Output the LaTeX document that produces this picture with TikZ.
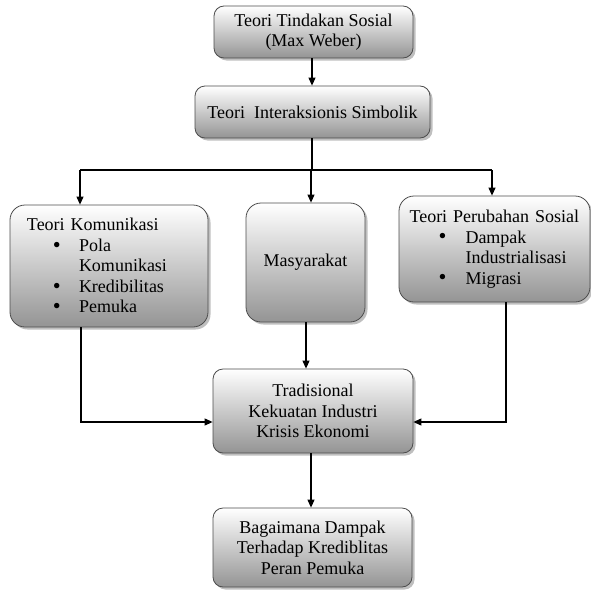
\documentclass[tikz,border=0pt]{standalone}
\usepackage{fontspec}
\setmainfont{Liberation Serif}
\usetikzlibrary{shadows,arrows.meta}
\newcommand{\bul}{\raisebox{-0.6pt}{\scalebox{1.25}{\textbullet}}}
\begin{document}
\begin{tikzpicture}[x=1pt,y=-1pt,
 box/.style={draw=black!70, line width=0.8pt, rounded corners=10pt, top color=white, bottom color=black!42,
   drop shadow={shadow xshift=2.5pt, shadow yshift=-2.5pt, fill=black!50, opacity=0.5},
   font=\fontsize{18}{20.5}\selectfont, align=center, inner sep=0pt},
 big/.style={box, rounded corners=15pt},
 link/.style={line width=1.1pt, draw=black},
 arr/.style={link, -{Triangle[length=8pt,width=7pt]}}]
\useasboundingbox (0,0) rectangle (591,589);

\node[box, minimum width=199pt, minimum height=52pt] (top) at (313.5,32) {Teori Tindakan Sosial\\(Max Weber)};
\node[box, minimum width=235pt, minimum height=52pt] (inter) at (312.5,112) {Teori\ \ Interaksionis Simbolik};
\node[big, minimum width=198pt, minimum height=122pt, text width=164pt, inner xsep=17pt, align=left] (kom) at (109,266)
 {Teori Komunikasi\\
  \hspace*{26pt}\makebox[26pt][l]{\bul}Pola\\
  \hspace*{52pt}Komunikasi\\
  \hspace*{26pt}\makebox[26pt][l]{\bul}Kredibilitas\\
  \hspace*{26pt}\makebox[26pt][l]{\bul}Pemuka};
\node[big, minimum width=119pt, minimum height=119pt] (mas) at (305.5,262.5) {Masyarakat};
\node[big, minimum width=191pt, minimum height=106pt, text width=170pt, inner xsep=10.5pt, align=left] (per) at (494.5,249)
 {Teori Perubahan Sosial\\
  \hspace*{29pt}\makebox[27pt][l]{\bul}Dampak\\
  \hspace*{56pt}Industrialisasi\\
  \hspace*{29pt}\makebox[27pt][l]{\bul}Migrasi};
\node[box, minimum width=200pt, minimum height=84pt] (trad) at (313,411) {Tradisional\\Kekuatan Industri\\Krisis Ekonomi};
\node[box, minimum width=199pt, minimum height=79pt] (bag) at (312.5,547.5) {Bagaimana Dampak\\Terhadap Krediblitas\\Peran Pemuka};

\coordinate (j) at (312,170);
\coordinate (jl) at (80,170);
\coordinate (jr) at (492,170);
\coordinate (jm) at (311,170);
\coordinate (kl) at (81,422);
\coordinate (kr) at (506,422);
\coordinate (mx) at (306,340);
\coordinate (bx) at (311,480);

\draw[arr] (top.south -| j) -- (inter.north -| j);
\draw[link] (inter.south -| j) -- (j);
\draw[link] (jl) -- (jr);
\draw[arr] (jl) -- (jl |- kom.north);
\draw[arr] (jm) -- (jm |- mas.north);
\draw[arr] (jr) -- (jr |- per.north);
\draw[arr] (kl |- kom.south) -- (kl) -- (kl -| trad.west);
\draw[arr] (kr |- per.south) -- (kr) -- (kr -| trad.east);
\draw[arr] (mx |- mas.south) -- (mx |- trad.north);
\draw[arr] (bx |- trad.south) -- (bx |- bag.north);
\end{tikzpicture}
\end{document}
